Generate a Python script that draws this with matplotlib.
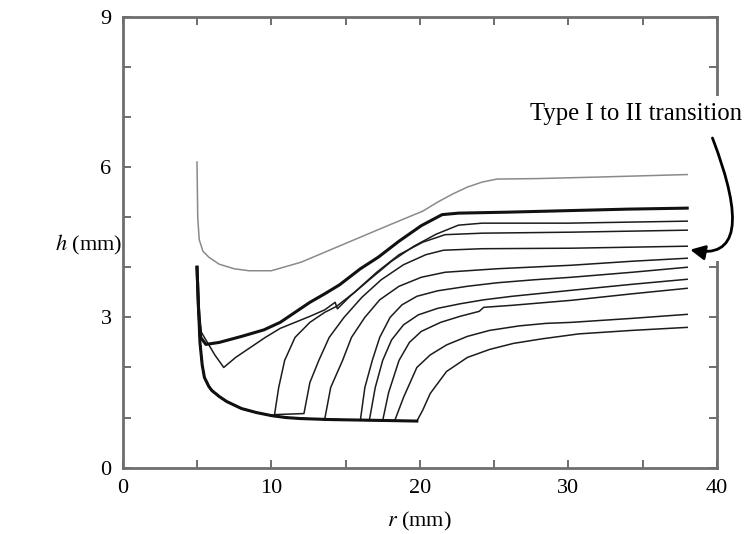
import matplotlib
matplotlib.use("Agg")
import matplotlib.pyplot as plt
from matplotlib.patches import Rectangle
from matplotlib.ticker import MultipleLocator

# shared floor that every transition run follows before lifting off
base_r = [5.0, 5.1, 5.2, 5.35, 5.5, 5.8, 6.0, 6.5, 7.0, 8.0, 9.0, 10.0, 11.0, 12.0, 14.0, 16.0, 18.0, 19.8]
base_h = [4.0, 3.2, 2.5, 2.05, 1.8, 1.62, 1.54, 1.42, 1.32, 1.18, 1.1, 1.04, 1.0, 0.98, 0.96, 0.95, 0.94, 0.93]

# light top curve
top_r = [5.0, 5.05, 5.15, 5.4, 5.8, 6.5, 7.5, 8.5, 10.0, 12.0, 14.0, 16.0, 18.0, 20.2, 21.2, 22.2, 23.2, 24.2, 25.2, 28.0, 32.0, 38.0]
top_h = [6.1, 5.0, 4.55, 4.32, 4.2, 4.06, 3.97, 3.93, 3.93, 4.1, 4.35, 4.6, 4.85, 5.12, 5.3, 5.46, 5.6, 5.7, 5.76, 5.77, 5.8, 5.85]

# heavy curve
thick_r = [5.0, 5.1, 5.25, 5.6, 6.5, 8.0, 9.5, 10.6, 11.6, 12.6, 13.6, 14.6, 16.0, 17.2, 18.6, 20.1, 21.5, 22.6, 26.0, 30.0, 34.0, 38.0]
thick_h = [4.0, 3.2, 2.6, 2.46, 2.5, 2.62, 2.75, 2.9, 3.1, 3.3, 3.47, 3.65, 3.97, 4.2, 4.52, 4.83, 5.05, 5.08, 5.1, 5.13, 5.16, 5.18]

# curve with the dip near r = 7
dip_r = [5.0, 5.15, 5.3, 5.6, 6.2, 6.8, 7.6, 8.6, 9.6, 10.6, 11.6, 12.6, 13.6, 14.3, 14.45, 15.3, 16.6, 18.1, 19.6, 21.1, 22.6, 24.2, 30.0, 38.0]
dip_h = [4.0, 3.0, 2.7, 2.55, 2.25, 2.0, 2.2, 2.4, 2.6, 2.78, 2.9, 3.02, 3.15, 3.3, 3.17, 3.42, 3.75, 4.12, 4.42, 4.66, 4.84, 4.88, 4.88, 4.92]

# runs leaving the floor
t1_r = [10.2, 10.5, 10.9, 11.6, 12.6, 13.6, 14.4, 15.6, 17.1, 18.6, 20.2, 21.7, 24.2, 30.2, 38.0]
t1_h = [1.02, 1.6, 2.14, 2.6, 2.9, 3.1, 3.22, 3.5, 3.9, 4.25, 4.5, 4.65, 4.68, 4.7, 4.74]
t2_r = [10.3, 12.2, 12.6, 13.2, 13.9, 14.9, 16.1, 17.4, 18.9, 20.4, 21.6, 24.2, 30.2, 38.0]
t2_h = [1.06, 1.08, 1.7, 2.14, 2.6, 3.0, 3.4, 3.75, 4.05, 4.25, 4.34, 4.37, 4.38, 4.42]
t3_r = [13.6, 14.0, 14.8, 15.4, 16.3, 17.3, 18.6, 20.1, 21.7, 25.2, 30.2, 34.3, 38.0]
t3_h = [0.97, 1.6, 2.14, 2.6, 3.0, 3.35, 3.62, 3.8, 3.9, 3.97, 4.04, 4.12, 4.18]
t4_r = [16.0, 16.3, 16.8, 17.3, 18.0, 18.8, 19.8, 21.2, 23.2, 25.2, 27.7, 30.2, 34.3, 38.0]
t4_h = [0.95, 1.6, 2.14, 2.6, 3.0, 3.25, 3.42, 3.53, 3.62, 3.69, 3.75, 3.8, 3.9, 4.0]
t5_r = [16.6, 17.0, 17.5, 18.1, 18.9, 19.9, 21.2, 22.7, 24.3, 26.2, 28.2, 30.2, 34.3, 38.0]
t5_h = [0.94, 1.6, 2.14, 2.55, 2.85, 3.05, 3.18, 3.27, 3.35, 3.42, 3.48, 3.54, 3.66, 3.76]
t6_r = [17.5, 17.9, 18.6, 19.3, 20.1, 21.4, 22.7, 24.0, 24.3, 26.2, 28.2, 30.2, 34.3, 38.0]
t6_h = [0.94, 1.5, 2.14, 2.5, 2.72, 2.9, 3.02, 3.12, 3.2, 3.24, 3.29, 3.34, 3.47, 3.58]
t7_r = [18.3, 18.9, 19.8, 20.7, 21.8, 23.2, 24.7, 26.7, 28.5, 30.2, 34.3, 38.0]
t7_h = [0.93, 1.4, 2.0, 2.25, 2.45, 2.62, 2.74, 2.83, 2.88, 2.9, 2.98, 3.06]
t8_r = [18.3, 19.8, 20.2, 20.7, 21.8, 23.2, 24.7, 26.3, 28.2, 30.7, 34.3, 38.0]
t8_h = [0.93, 0.93, 1.15, 1.48, 1.92, 2.2, 2.36, 2.48, 2.57, 2.67, 2.74, 2.8]

plt.rcParams["font.family"] = ["Liberation Serif", "DejaVu Serif"]
plt.rcParams["mathtext.fontset"] = "stix"

fig = plt.figure(figsize=(7.46, 5.34), dpi=100)
ax = fig.add_axes([0.1645, 0.1242, 0.7965, 0.8445])

line_kw = dict(color="#1c1c1c", lw=1.1, solid_joinstyle="round")


def with_floor(r, h):
    """Prefix a run with the shared floor up to where it lifts off."""
    rr = [x for x in base_r if x < r[0]]
    hh = base_h[:len(rr)]
    return rr + r, hh + h


for r, h in [(t1_r, t1_h), (t2_r, t2_h), (t3_r, t3_h), (t4_r, t4_h),
             (t5_r, t5_h), (t6_r, t6_h), (t7_r, t7_h), (t8_r, t8_h)]:
    rr, hh = with_floor(r, h)
    ax.plot(rr, hh, **line_kw)

ax.plot(base_r, base_h, color="#111111", lw=2.2)
ax.plot(dip_r, dip_h, **line_kw)
ax.plot(thick_r, thick_h, color="#111111", lw=2.2)
ax.plot(top_r, top_h, color="#8a8a8a", lw=1.1)

ax.set_xlim(0, 40)
ax.set_ylim(0, 9)
ax.xaxis.set_major_locator(MultipleLocator(10))
ax.xaxis.set_minor_locator(MultipleLocator(5))
ax.yaxis.set_major_locator(MultipleLocator(3))
ax.yaxis.set_minor_locator(MultipleLocator(1))
ax.tick_params(which="both", direction="in", top=True, right=True,
               length=6, width=1.2, color="#555555", labelsize=16, pad=8)

for sp in ax.spines.values():
    sp.set_color("#6e6e6e")
    sp.set_linewidth(2)

# the right frame is blanked out behind the annotation in the original
ax.add_patch(Rectangle((39.2, 4.12), 2.0, 3.3, facecolor="white",
                       edgecolor="none", zorder=5, clip_on=False))

ax.set_xlabel("$r$ (mm)", fontsize=16, labelpad=9)
ax.set_ylabel("$h$ (mm)", fontsize=16, rotation=0, ha="center", va="center")
ax.yaxis.set_label_coords(-0.058, 0.494)

ax.text(27.4, 7.05, "Type I to II transition", fontsize=17.8, va="center",
        ha="left", clip_on=False, zorder=6)
ax.annotate("", xy=(38.2, 4.35), xytext=(39.7, 6.58), annotation_clip=False,
            zorder=6,
            arrowprops=dict(arrowstyle="-|>", color="black", lw=2,
                            mutation_scale=22, shrinkA=0, shrinkB=0,
                            connectionstyle="angle3,angleA=-69,angleB=-11"))

fig.savefig("out.png", dpi=100)
